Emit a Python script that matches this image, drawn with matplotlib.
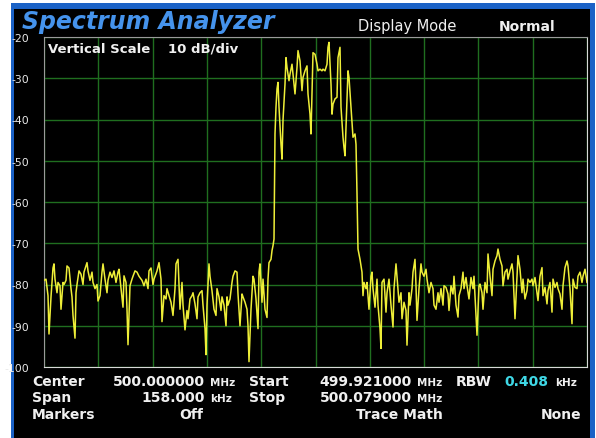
import numpy as np
import matplotlib
matplotlib.use('Agg')
import matplotlib.pyplot as plt
from matplotlib.patches import Rectangle

# analyzer settings (as shown on screen)
center_mhz = 500.000000
span_khz = 158.000
start_mhz = 499.921000
stop_mhz = 500.079000
rbw_khz = 0.408
n_points = 544
ref_level = -20
db_per_div = 10

# trace points: bin number across the sweep and level in dBm
trace_bin = [0, 2, 4, 5, 7, 9, 10, 11, 13, 14, 16, 17, 19, 20, 22, 23, 25, 27, 28, 29,
             31, 32, 33, 35, 37, 39, 40, 43, 44, 46, 48, 49, 51, 53, 54, 56, 58, 59, 61, 63,
             64, 66, 68, 70, 72, 74, 75, 77, 79, 80, 82, 83, 84, 86, 88, 89, 91, 93, 95, 98,
             100, 102, 104, 105, 107, 109, 110, 113, 115, 117, 118, 120, 122, 123, 125, 127, 129, 131, 132, 134,
             136, 138, 139, 141, 143, 144, 146, 148, 149, 151, 153, 154, 156, 158, 159, 161, 162, 163, 165, 166,
             168, 170, 172, 173, 175, 177, 178, 180, 182, 183, 184, 186, 188, 189, 191, 193, 194, 196, 198, 199,
             201, 203, 204, 205, 207, 209, 210, 212, 214, 215, 216, 218, 219, 221, 223, 224, 225, 227, 228, 229,
             230,
             231, 232, 233, 234, 235, 237, 238, 239, 241, 242, 243, 245, 246, 248, 249, 251, 253, 254, 256, 258,
             259, 261, 263, 264, 266, 267, 268, 269, 271, 273, 274, 276, 278, 279, 281, 283, 284, 285, 287, 288,
             289, 291, 293, 294, 296, 297, 299, 300, 301, 303, 304, 305, 307, 308, 309, 311, 312, 313,
             314, 316, 318, 319, 320, 322, 323, 325, 327, 328, 329, 331, 333, 334, 336, 337, 338, 340, 342, 343,
             345, 347, 349, 350, 352, 353, 355, 357, 358, 360, 362, 363, 365, 366, 368, 369, 371, 372, 373, 375,
             377, 378, 380, 382, 383, 385, 387, 389, 390, 392, 394, 395, 397, 399, 400, 402, 404, 405, 407, 409,
             410, 412, 414, 415, 417, 419, 420,
             422, 423, 425, 427, 429, 430, 432, 433, 435, 436, 438, 439, 441, 443, 444, 446, 448, 449, 451, 453,
             454, 456, 458, 459, 461, 463, 464, 466, 468, 469, 471, 473, 474, 476, 478, 479, 481, 483, 484, 486,
             488, 489, 491, 493, 494, 496, 498, 499, 501, 503, 504, 506, 508, 509, 511, 513, 514, 516, 518, 519,
             521, 523, 524, 526, 528, 529, 531, 533, 534, 536, 538, 539, 541, 543]

trace_dbm = [-79, -78.7, -82.7, -92, -83, -76, -75, -78.7, -82, -79.5, -80.3, -86, -79.5, -80, -79, -75.5, -76, -81, -83, -87.5,
             -93, -82, -80, -76.7, -77.5, -80, -77, -74.7, -76.7, -79, -77, -79.5, -81, -80, -84, -82.7, -77, -75, -78.7, -82,
             -79, -77, -78.3, -76.7, -79.5, -77, -76.3, -81, -85.5, -77.9, -79.5, -86, -94.6, -80.3, -78.7, -78, -76.7, -77, -78, -79,
             -80.3, -78.7, -81, -76.7, -76, -80, -78.7, -76.7, -74.7, -78.7, -89, -82.7, -83.5, -81, -82.7, -84.3, -87.5, -81, -75, -73.9,
             -86, -79.5, -85, -91, -86.3, -88.3, -83.5, -82.7, -82, -84.7, -88.3, -83, -82, -81.5, -85, -90.7, -97, -85, -75, -78,
             -81.5, -86, -87.5, -81, -83, -86.3, -83, -85, -90, -83, -85, -83.5, -79.5, -78, -76.7, -77, -82.3, -90, -82.3, -83,
             -84.3, -86, -90, -98.7, -86, -78, -78.7, -83.5, -90.7, -77, -75, -84.3, -78.7, -86, -88, -78.7, -74.7, -73.9, -71.8, -70.6,
             -69,
             -43.5, -37, -32.6, -31, -37, -46, -49.6, -40.2, -31.4, -25, -27.4, -30.6, -29, -26.6, -29, -33.8, -27.4, -23.3, -25.8, -33,
             -29.8, -28.2, -27, -33.8, -38.7, -43.5, -33.8, -23.8, -24.2, -26.6, -28.2, -27.8, -28.2, -27.8, -28.2, -26.6, -22.5, -21.3, -31.4, -38.7,
             -36.3, -35, -34.6, -25, -22.5, -37, -44.3, -46.8, -48.8, -35.4, -28.2, -29.8, -37, -41, -44.3, -43.5, -46, -58,
             -71.4, -73.9, -77, -82.7, -79.5, -81, -79.5, -86, -78, -77, -81, -85.5, -78.7, -85, -90.7, -95.5, -79.5, -78.7, -86.7, -82,
             -78.7, -85, -90.3, -81, -75, -78, -84.3, -82, -88.3, -84.3, -86.3, -94.7, -82, -85, -81, -77, -73.9, -80.3, -88.7, -81,
             -75, -77, -78, -76.3, -78.7, -82, -79.5, -81, -85, -86, -82, -84.3, -81, -85, -80.3, -80.7, -82.3, -86.3, -80.3, -82.3,
             -78, -85, -87.9, -82.7, -81, -77, -81,
             -78.3, -80.3, -83.5, -78.3, -81, -78, -87.5, -92.3, -80.3, -79.9, -82, -86, -79.5, -82, -72.6, -78, -82.7, -76.3, -74.3, -73,
             -71.4, -73.9, -75.5, -80.3, -77, -76.3, -78.7, -76.7, -75, -77, -88.3, -78, -73, -76.3, -82, -78.7, -83.5, -81.5, -78.7, -79.5,
             -78.7, -80.3, -78.3, -82, -83.9, -78, -75.9, -82.7, -80.7, -84.7, -81.5, -79.5, -86.7, -78.7, -80.7, -79.5, -81, -82.3, -86, -80.3,
             -75.9, -74.3, -75.5, -81, -89.5, -78.7, -80.7, -81, -78, -77, -79.5, -78, -76.3, -79.5]

# frequency offset from center in kHz for every trace bin
freq = np.array(trace_bin) / (n_points - 1.0) * span_khz - span_khz / 2.0
level = np.array(trace_dbm)

W, H = 596, 439
def fx(px):
    return px / float(W)
def fy(py):
    return 1.0 - py / float(H)

plt.rcParams['axes.unicode_minus'] = False
plt.rcParams['font.family'] = 'DejaVu Sans'

fig = plt.figure(figsize=(W / 100.0, H / 100.0), dpi=100)
fig.patch.set_facecolor('white')

# blue bezel and black screen
fig.add_artist(Rectangle((fx(11), 0), fx(595) - fx(11), fy(4), transform=fig.transFigure,
                         facecolor='#1b62c6', edgecolor='none', zorder=-10))
fig.add_artist(Rectangle((fx(14), 0), fx(590) - fx(14), fy(10), transform=fig.transFigure,
                         facecolor='black', edgecolor='none', zorder=-9))

ax = fig.add_axes([fx(44), fy(368), fx(587) - fx(44), fy(38) - fy(368)])
ax.set_facecolor('black')
ax.plot(freq, level, color='#eeee38', lw=1.1, zorder=3)

ax.set_xlim(-span_khz / 2.0, span_khz / 2.0)
ax.set_ylim(ref_level - 8 * db_per_div, ref_level)
ax.set_xticks(np.linspace(-span_khz / 2.0, span_khz / 2.0, 11))
ax.set_yticks(np.arange(-100, -19, 10))
ax.set_xticklabels([])
ax.grid(True, color='#1f6e1f', lw=1.0)
ax.tick_params(length=0, pad=11, labelsize=7.8, labelcolor='#e8e8e8')
for s in ['left', 'top']:
    ax.spines[s].set_color('#9a9a9a')
for s in ['right', 'bottom']:
    ax.spines[s].set_color('#d8d8d8')

# header
fig.text(fx(22), fy(29), 'Spectrum Analyzer', fontsize=17, fontweight='bold', fontstyle='italic',
         color='#4593ec', va='baseline')
fig.text(fx(358), fy(31), 'Display Mode', fontsize=10.5, color='#f0f0f0', va='baseline')
fig.text(fx(499), fy(31), 'Normal', fontsize=10, fontweight='bold', color='#f0f0f0', va='baseline')
ax.text(fx(48), fy(53), 'Vertical Scale', transform=fig.transFigure, fontsize=9.5, fontweight='bold',
        color='#f0f0f0', va='baseline')
ax.text(fx(168), fy(53), '%d dB/div' % db_per_div, transform=fig.transFigure, fontsize=9.5,
        fontweight='bold', color='#f0f0f0', va='baseline')

# bottom readout
wt = '#f0f0f0'
fs = 10
ufs = 7.5
r1, r2, r3 = fy(386), fy(402), fy(419)
fig.text(fx(32), r1, 'Center', fontsize=fs, fontweight='bold', color=wt, va='baseline')
fig.text(fx(205), r1, '%.6f' % center_mhz, fontsize=fs, fontweight='bold', color=wt, va='baseline', ha='right')
fig.text(fx(210), r1, 'MHz', fontsize=ufs, fontweight='bold', color=wt, va='baseline')
fig.text(fx(249), r1, 'Start', fontsize=fs, fontweight='bold', color=wt, va='baseline')
fig.text(fx(412), r1, '%.6f' % start_mhz, fontsize=fs, fontweight='bold', color=wt, va='baseline', ha='right')
fig.text(fx(417), r1, 'MHz', fontsize=ufs, fontweight='bold', color=wt, va='baseline')
fig.text(fx(456), r1, 'RBW', fontsize=fs, fontweight='bold', color=wt, va='baseline')
fig.text(fx(548), r1, '%.3f' % rbw_khz, fontsize=fs, fontweight='bold', color='#3fd8e6', va='baseline', ha='right')
fig.text(fx(555), r1, 'kHz', fontsize=ufs, fontweight='bold', color=wt, va='baseline')

fig.text(fx(32), r2, 'Span', fontsize=fs, fontweight='bold', color=wt, va='baseline')
fig.text(fx(205), r2, '%.3f' % span_khz, fontsize=fs, fontweight='bold', color=wt, va='baseline', ha='right')
fig.text(fx(210), r2, 'kHz', fontsize=ufs, fontweight='bold', color=wt, va='baseline')
fig.text(fx(249), r2, 'Stop', fontsize=fs, fontweight='bold', color=wt, va='baseline')
fig.text(fx(412), r2, '%.6f' % stop_mhz, fontsize=fs, fontweight='bold', color=wt, va='baseline', ha='right')
fig.text(fx(417), r2, 'MHz', fontsize=ufs, fontweight='bold', color=wt, va='baseline')

fig.text(fx(32), r3, 'Markers', fontsize=fs, fontweight='bold', color=wt, va='baseline')
fig.text(fx(191), r3, 'Off', fontsize=fs, fontweight='bold', color=wt, va='baseline', ha='center')
fig.text(fx(443), r3, 'Trace Math', fontsize=fs, fontweight='bold', color=wt, va='baseline', ha='right')
fig.text(fx(581), r3, 'None', fontsize=fs, fontweight='bold', color=wt, va='baseline', ha='right')

fig.savefig('out.png', dpi=100, facecolor=fig.get_facecolor())
